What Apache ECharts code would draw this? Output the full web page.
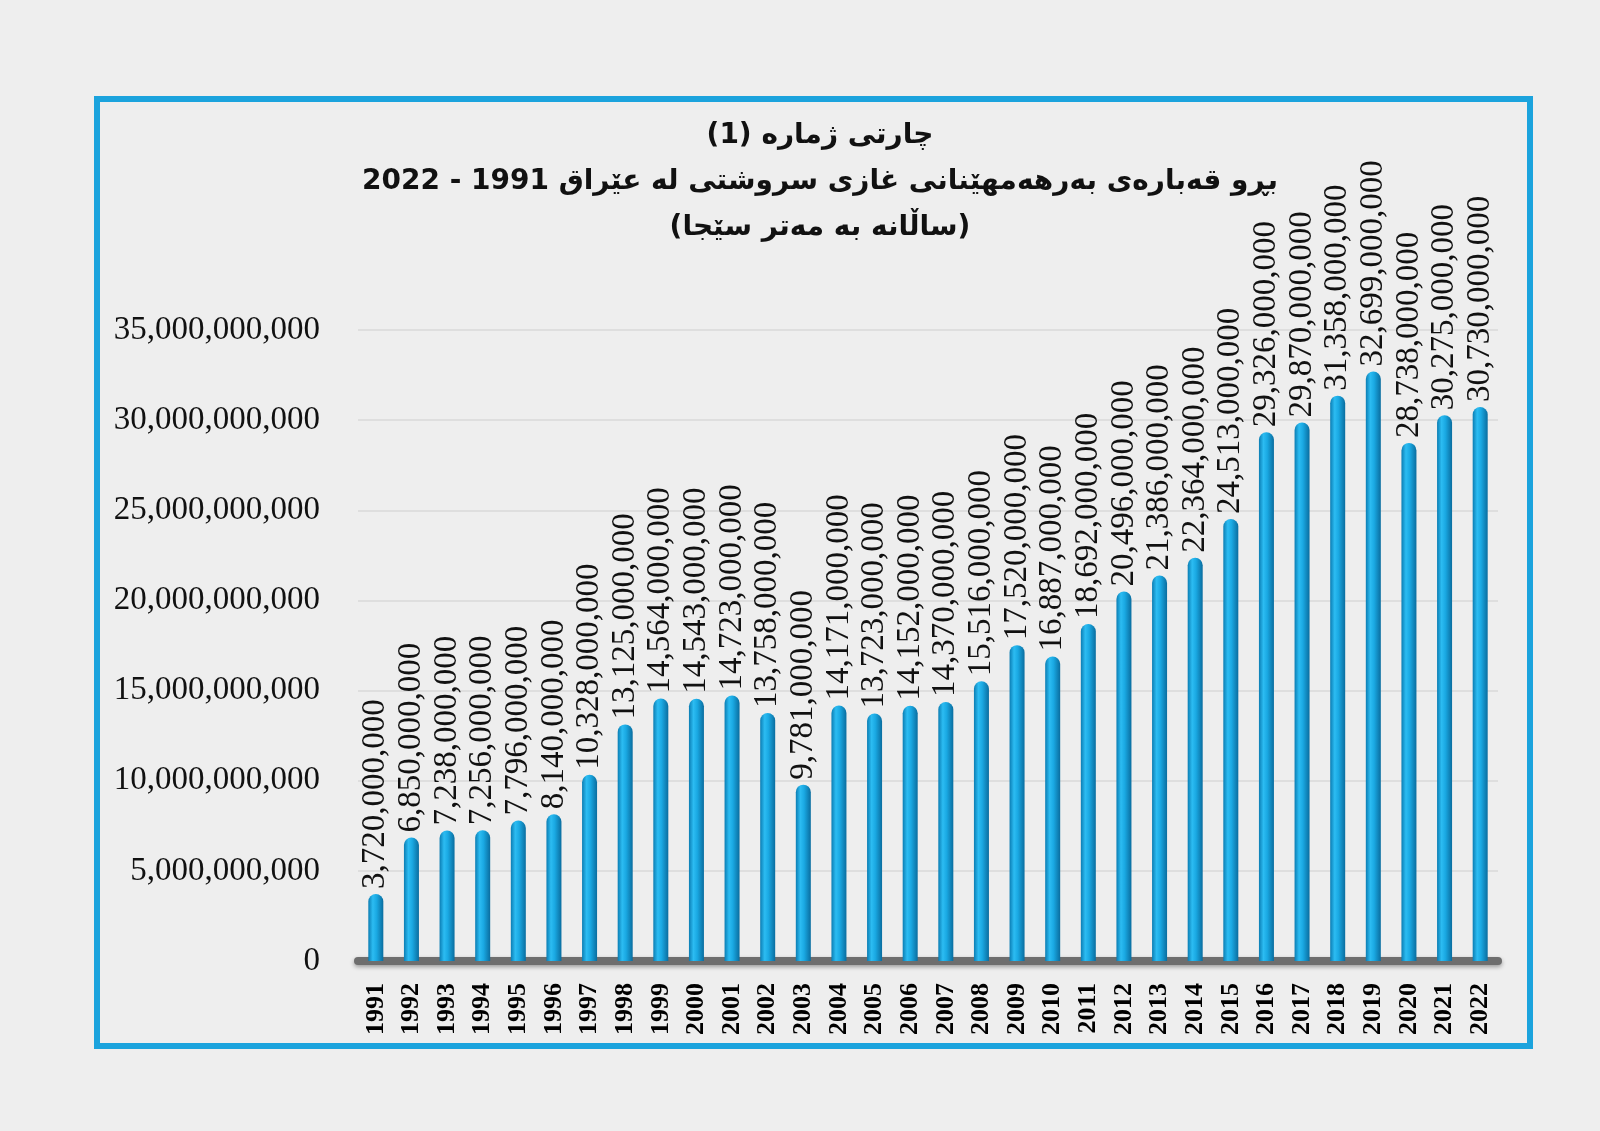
<!DOCTYPE html>
<html>
<head>
<meta charset="utf-8">
<script src="https://cdn.jsdelivr.net/npm/echarts@6/dist/echarts.min.js"></script>
<style>
  html, body { margin: 0; padding: 0; background: #eeeeee; }
  #chart { width: 1600px; height: 1131px; }
</style>
</head>
<body>
<div id="chart"></div>
<script>
// سالەکان و بڕی بەرهەمهێنان (مەتر سێجا)
var years = ['1991','1992','1993','1994','1995','1996','1997','1998','1999','2000','2001',
    '2002','2003','2004','2005','2006','2007','2008','2009','2010','2011','2012','2013',
    '2014','2015','2016','2017','2018','2019','2020','2021','2022'];
var gasVolume = [3720000000, 6850000000, 7238000000, 7256000000, 7796000000, 8140000000,
    10328000000, 13125000000, 14564000000, 14543000000, 14723000000, 13758000000,
    9781000000, 14171000000, 13723000000, 14152000000, 14370000000, 15516000000,
    17520000000, 16887000000, 18692000000, 20496000000, 21386000000, 22364000000,
    24513000000, 29326000000, 29870000000, 31358000000, 32699000000, 28738000000,
    30275000000, 30730000000];
var titleLines = [
    'چارتی ژمارە (1)',
    'بڕو قەبارەی بەرهەمهێنانی غازی سروشتی لە عێراق 1991 - 2022',
    '(ساڵانە بە مەتر سێجا)'
];

function fmt(v) {
    return Number(v).toLocaleString('en-US');
}

var myChart = echarts.init(document.getElementById('chart'));
var option = {
    backgroundColor: '#eeeeee',
    animation: false,
    title: {
        // RLE ... PDF بۆ ئەوەی دەق لە ڕاستەوە بنووسرێت
        text: titleLines.map(function (t) { return '\u202B' + t + '\u202C'; }).join('\n'),
        left: 815,
        textAlign: 'center',
        top: 108,
        textStyle: {
            fontFamily: 'DejaVu Sans',
            fontWeight: 'bold',
            fontSize: 28,
            lineHeight: 46,
            color: '#111'
        }
    },
    graphic: [{
        type: 'rect',
        shape: { x: 97, y: 99, width: 1433, height: 947 },
        style: { fill: 'transparent', stroke: '#1ba3dd', lineWidth: 6 },
        silent: true
    }],
    grid: {
        left: 358,
        right: 102,
        top: 330,
        bottom: 170
    },
    xAxis: {
        type: 'category',
        data: years,
        axisTick: { show: false },
        axisLine: { lineStyle: { color: '#6e6e6e', width: 8, shadowColor: 'rgba(0,0,0,0.35)', shadowBlur: 4, shadowOffsetY: 2 } },
        axisLabel: {
            rotate: 90,
            interval: 0,
            margin: 22,
            fontFamily: 'Liberation Serif',
            fontWeight: 'bold',
            fontSize: 26,
            color: '#000'
        }
    },
    yAxis: {
        type: 'value',
        min: 0,
        max: 35000000000,
        interval: 5000000000,
        axisLine: { show: false },
        axisTick: { show: false },
        splitLine: { lineStyle: { color: '#d8d8d8', width: 1.5 } },
        axisLabel: {
            margin: 38,
            fontFamily: 'Liberation Serif',
            fontSize: 33,
            color: '#111',
            formatter: function (v) { return fmt(v); }
        }
    },
    series: [{
        type: 'bar',
        data: gasVolume,
        barWidth: 15,
        itemStyle: {
            borderRadius: [8, 8, 0, 0],
            color: new echarts.graphic.LinearGradient(0, 0, 1, 0, [
                { offset: 0, color: '#0b7db3' },
                { offset: 0.3, color: '#2cbcf2' },
                { offset: 0.55, color: '#1aa9e3' },
                { offset: 1, color: '#0a6d9f' }
            ])
        },
        label: {
            show: true,
            position: 'top',
            rotate: 90,
            align: 'left',
            verticalAlign: 'middle',
            distance: 5,
            fontFamily: 'Liberation Serif',
            fontSize: 33,
            color: '#111',
            formatter: function (p) { return fmt(p.value); }
        }
    }]
};
myChart.setOption(option);
</script>
</body>
</html>
